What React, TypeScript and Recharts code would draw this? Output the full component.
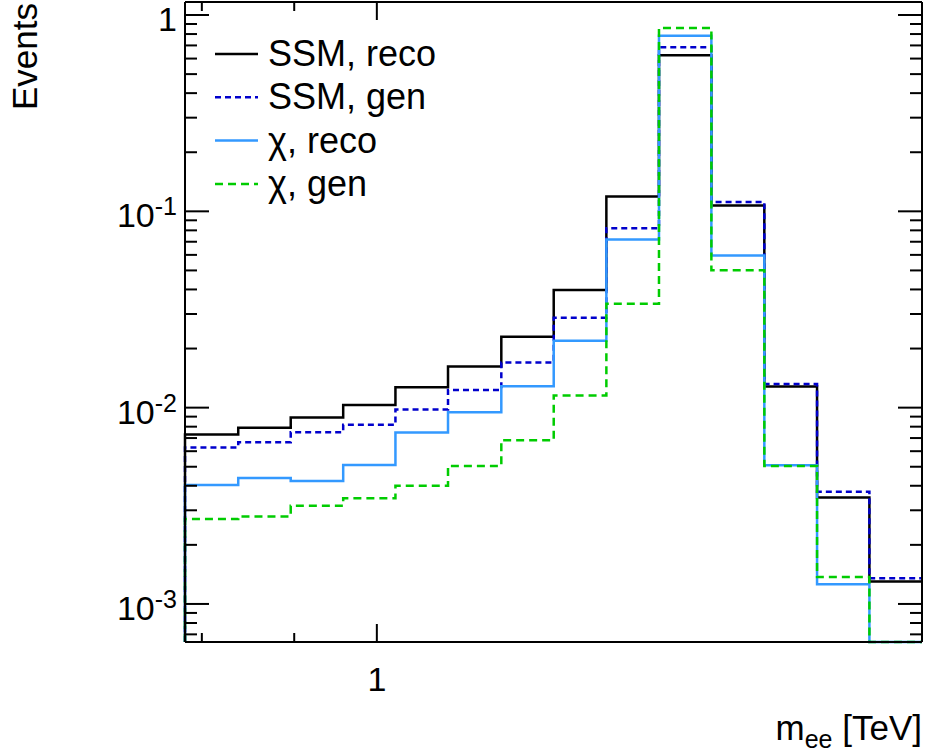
import { Legend, Line, LineChart, XAxis, YAxis } from "recharts";

const FONT = "'Liberation Sans', Arial, Helvetica, sans-serif";

// m_ee bin edges in TeV (14 log-spaced bins)
const binEdges = [0.783, 0.838, 0.896, 0.958, 1.024, 1.095, 1.172, 1.253, 1.34, 1.433, 1.532, 1.639, 1.753, 1.874, 2.004];

// normalised event counts per bin
const ssmReco = [7.3e-3, 7.9e-3, 8.9e-3, 1.03e-2, 1.27e-2, 1.62e-2, 2.3e-2, 3.98e-2, 0.119, 0.624, 0.107, 1.28e-2, 3.49e-3, 1.3e-3];
const ssmGen = [6.27e-3, 6.67e-3, 7.5e-3, 8.17e-3, 9.78e-3, 1.23e-2, 1.7e-2, 2.87e-2, 8.2e-2, 0.685, 0.1116, 1.32e-2, 3.73e-3, 1.35e-3];
const chiReco = [4.03e-3, 4.38e-3, 4.23e-3, 5.11e-3, 7.47e-3, 9.48e-3, 1.285e-2, 2.19e-2, 7.18e-2, 0.785, 5.95e-2, 5.09e-3, 1.26e-3, 0];
const chiGen = [2.71e-3, 2.79e-3, 3.16e-3, 3.45e-3, 4.0e-3, 5.05e-3, 6.83e-3, 1.152e-2, 3.38e-2, 0.859, 5.01e-2, 5.04e-3, 1.37e-3, 0];

const xTicks = [0.8, 0.9, 1];
const xLabelled = [1];
const yTicks = [
  7e-4, 8e-4, 9e-4,
  1e-3, 2e-3, 3e-3, 4e-3, 5e-3, 6e-3, 7e-3, 8e-3, 9e-3,
  1e-2, 2e-2, 3e-2, 4e-2, 5e-2, 6e-2, 7e-2, 8e-2, 9e-2,
  0.1, 0.2, 0.3, 0.4, 0.5, 0.6, 0.7, 0.8, 0.9,
  1,
];

const xDomain: [number, number] = [0.783, 2.004];
const yDomain: [number, number] = [6.4e-4, 1.165];

const series = [
  { key: "ssmReco", name: "SSM, reco", values: ssmReco, color: "#000000", dash: undefined },
  { key: "ssmGen", name: "SSM, gen", values: ssmGen, color: "#0000cc", dash: "6 4" },
  { key: "chiReco", name: "χ, reco", values: chiReco, color: "#3399ff", dash: undefined },
  { key: "chiGen", name: "χ, gen", values: chiGen, color: "#00cc00", dash: "8 5" },
];

// histogram outline: start on the frame floor, then one step per bin edge
const floor = yDomain[0];
const rows: Record<string, number>[] = [];
const first: Record<string, number> = { x: binEdges[0] };
series.forEach((s) => (first[s.key] = floor));
rows.push(first);
binEdges.forEach((edge, i) => {
  const bin = Math.min(i, binEdges.length - 2);
  const row: Record<string, number> = { x: edge };
  series.forEach((s) => (row[s.key] = Math.max(s.values[bin], floor)));
  rows.push(row);
});

const isDecade = (v: number) => Math.abs(Math.log10(v) - Math.round(Math.log10(v))) < 1e-6;

function LeftTick(props: any) {
  const { x, y, payload } = props;
  const v = payload.value;
  const major = isDecade(v);
  const exp = Math.round(Math.log10(v));
  return (
    <g>
      <line x1={x} x2={x + (major ? 24 : 12)} y1={y} y2={y} stroke="#000" strokeWidth={2} />
      {major && (
        <text x={x - 8} y={y + 16} textAnchor="end" fontSize={34} fontFamily={FONT} fill="#000">
          {exp === 0 ? "1" : (
            <>
              10<tspan dy={-12} fontSize={25}>{exp}</tspan>
            </>
          )}
        </text>
      )}
    </g>
  );
}

function RightTick(props: any) {
  const { x, y, payload } = props;
  const major = isDecade(payload.value);
  return <line x1={x} x2={x - (major ? 24 : 12)} y1={y} y2={y} stroke="#000" strokeWidth={2} />;
}

function BottomTick(props: any) {
  const { x, y, payload } = props;
  const labelled = xLabelled.includes(payload.value);
  return (
    <g>
      <line x1={x} x2={x} y1={y} y2={y - (labelled ? 18 : 9)} stroke="#000" strokeWidth={2} />
      {labelled && (
        <text x={x} y={y + 49} textAnchor="middle" fontSize={34} fontFamily={FONT} fill="#000">
          {payload.value}
        </text>
      )}
    </g>
  );
}

function TopTick(props: any) {
  const { x, y, payload } = props;
  const labelled = xLabelled.includes(payload.value);
  return <line x1={x} x2={x} y1={y} y2={y + (labelled ? 18 : 9)} stroke="#000" strokeWidth={2} />;
}

function YTitle(props: any) {
  const vb = props.viewBox;
  const x = vb.x + 37;
  const y = vb.y + 1;
  return (
    <text transform={`rotate(-90 ${x} ${y})`} x={x} y={y} textAnchor="end" fontSize={35} fontFamily={FONT} fill="#000">
      Events
    </text>
  );
}

function XTitle(props: any) {
  const vb = props.viewBox;
  return (
    <text x={vb.x + vb.width} y={vb.y + 98} textAnchor="end" fontSize={35} fontFamily={FONT} fill="#000">
      m<tspan fontSize={25} dy={8}>ee</tspan>
      <tspan dy={-8}> [TeV]</tspan>
    </text>
  );
}

function HistLegend() {
  return (
    <svg width={260} height={180} style={{ display: "block" }}>
      {series.map((s, i) => {
        const cy = 22 + i * 43.3;
        return (
          <g key={s.key}>
            <line x1={10} x2={53} y1={cy} y2={cy} stroke={s.color} strokeWidth={2.5} strokeDasharray={s.dash} />
            <text x={63} y={cy + 12} fontSize={36} fontFamily={FONT} fill="#000">
              {s.name}
            </text>
          </g>
        );
      })}
    </svg>
  );
}

export default function App() {
  const frame = { stroke: "#000", strokeWidth: 2 };
  return (
    <div style={{ position: "absolute", left: 0, top: 0, background: "#fff", fontFamily: FONT }}>
      <LineChart width={928} height={752} data={rows} margin={{ top: 0, right: 0, bottom: 0, left: 0 }}>
        <XAxis
          xAxisId="bottom"
          dataKey="x"
          type="number"
          scale="log"
          domain={xDomain}
          ticks={xTicks}
          interval={0}
          tickSize={0}
          tickMargin={0}
          tickLine={false}
          axisLine={frame}
          tick={BottomTick}
          height={110}
          label={<XTitle />}
        />
        <XAxis
          xAxisId="top"
          orientation="top"
          dataKey="x"
          type="number"
          scale="log"
          domain={xDomain}
          ticks={xTicks}
          interval={0}
          tickSize={0}
          tickMargin={0}
          tickLine={false}
          axisLine={frame}
          tick={TopTick}
          height={2}
        />
        <YAxis
          yAxisId="left"
          type="number"
          scale="log"
          domain={yDomain}
          ticks={yTicks}
          interval={0}
          tickSize={0}
          tickMargin={0}
          tickLine={false}
          axisLine={frame}
          tick={LeftTick}
          width={185}
          label={<YTitle />}
        />
        <YAxis
          yAxisId="right"
          orientation="right"
          type="number"
          scale="log"
          domain={yDomain}
          ticks={yTicks}
          interval={0}
          tickSize={0}
          tickMargin={0}
          tickLine={false}
          axisLine={frame}
          tick={RightTick}
          width={6}
        />
        <Legend
          layout="vertical"
          align="center"
          verticalAlign="middle"
          content={<HistLegend />}
          wrapperStyle={{ left: 205, top: 32, width: 260, height: 180 }}
        />
        <Line
          xAxisId="top"
          yAxisId="right"
          dataKey="ssmReco"
          stroke="none"
          dot={false}
          activeDot={false}
          legendType="none"
          isAnimationActive={false}
        />
        {series.map((s) => (
          <Line
            key={s.key}
            xAxisId="bottom"
            yAxisId="left"
            type="stepAfter"
            dataKey={s.key}
            name={s.name}
            stroke={s.color}
            strokeWidth={2.5}
            strokeDasharray={s.dash}
            dot={false}
            activeDot={false}
            isAnimationActive={false}
          />
        ))}
      </LineChart>
    </div>
  );
}
